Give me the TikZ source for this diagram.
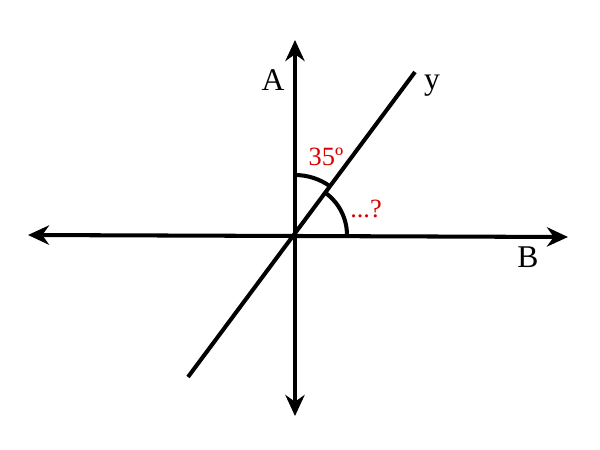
\documentclass[tikz,border=0pt]{standalone}
\usepackage{fontspec}
\setmainfont{Liberation Serif}
\usetikzlibrary{arrows.meta}
\begin{document}
\begin{tikzpicture}[x=0.02cm,y=-0.02cm,
  axis/.style={line width=2.3pt,{Stealth[length=12pt,width=11pt]}-{Stealth[length=12pt,width=11pt]}},
  ln/.style={line width=2.3pt},
  lbl/.style={font=\fontsize{18}{18}\selectfont},
  red lbl/.style={text=red!85!black,font=\fontsize{15}{15}\selectfont}]
\useasboundingbox (0,0) rectangle (600,450);
\coordinate (O) at (295,235);
\coordinate (L) at (28,235);
\coordinate (R) at (568,237);
\coordinate (T) at (295,40);
\coordinate (Bo) at (295,416);
\coordinate (D1) at (188,377);
\coordinate (D2) at (415,72);
\draw[axis] (L) -- (R);
\draw[axis] (Bo) -- (T);
\draw[ln] (D1) -- (D2);
\draw[ln] ([yshift=1.2cm]O) arc[start angle=90,end angle=53.6,radius=1.2cm];
\draw[ln] ([xshift=1.04cm]O) arc[start angle=0,end angle=53.6,radius=1.04cm];
\node[lbl] (a) at (273,80) {A};
\node[lbl] (y) at (432,86) {y};
\node[lbl] (b) at (528,257) {B};
\node[red lbl] (t) at (326,157) {35º};
\node[red lbl] (q) at (366,209) {...?};
\end{tikzpicture}
\end{document}
